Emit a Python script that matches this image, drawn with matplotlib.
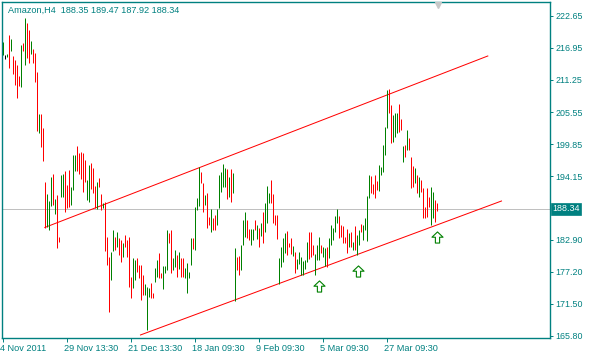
import matplotlib
matplotlib.use("Agg")
import matplotlib.pyplot as plt
import matplotlib.transforms as mtransforms
from matplotlib.path import Path

plt.rcParams['font.family'] = ['Liberation Sans', 'DejaVu Sans']

TEAL = "#008080"
UP_COL = "#008000"
DN_COL = "#FF0000"

TITLE = "Amazon,H4  188.35 189.47 187.92 188.34"
LAST_PRICE = 188.34

# H4 bars: high / low per bar, direction u=up, d=down, n=doji
HIGH = [
    218.04, 215.67, 215.79, 219.22, 218.51, 215.55, 214.78, 213.90, 212.00, 217.45,
    217.74, 222.18, 221.29, 220.11, 218.16, 216.74, 216.09, 212.71, 205.20, 205.20,
    202.65, 193.19, 191.00, 189.81, 193.96, 194.55, 190.05, 190.82, 183.42, 194.37,
    194.55, 195.14, 192.65, 195.26, 192.30, 197.92, 197.92, 199.58, 198.22, 198.51,
    198.22, 197.03, 193.48, 196.15, 196.56, 195.55, 192.42, 193.19, 193.90, 191.00,
    189.46, 189.64, 183.42, 179.87, 180.76, 184.61, 183.42, 184.31, 183.13, 182.83,
    182.24, 183.72, 182.83, 183.42, 176.32, 179.58, 179.28, 179.58, 178.39, 178.39,
    176.62, 175.02, 174.43, 174.25, 175.14, 173.48, 177.80, 179.28, 180.47, 176.92,
    178.22, 178.22, 184.61, 184.02, 184.61, 179.58, 181.06, 180.17, 180.76, 179.58,
    179.58, 177.80, 178.69, 177.21, 183.13, 183.13, 188.75, 190.23, 195.85, 194.96,
    192.89, 190.82, 191.24, 186.97, 188.34, 186.68, 187.27, 188.28, 194.37, 194.96,
    196.32, 195.55, 195.38, 194.07, 195.38, 194.79, 181.35, 179.87, 179.99, 181.95,
    186.38, 187.86, 186.38, 184.73, 184.73, 184.84, 186.38, 185.49, 184.90, 185.79,
    187.86, 189.34, 192.42, 191.24, 193.48, 191.00, 187.27, 187.27, 179.58, 181.53,
    183.13, 184.02, 184.43, 182.36, 183.25, 181.77, 180.76, 179.40, 180.76, 179.87,
    179.16, 179.28, 182.54, 184.31, 184.31, 181.95, 180.29, 181.95, 183.42, 181.95,
    181.53, 181.35, 181.53, 183.25, 185.49, 184.90, 187.09, 188.28, 187.09, 185.49,
    185.32, 183.42, 184.73, 184.13, 184.31, 182.54, 185.32, 183.72, 184.61, 185.67,
    185.49, 186.68, 190.64, 194.37, 194.19, 192.77, 194.37, 193.37, 196.15, 195.73,
    199.70, 202.95, 209.46, 209.58, 206.80, 205.02, 205.32, 205.32, 206.91, 204.25,
    199.52, 199.70, 202.36, 201.00, 197.63, 195.97, 195.55, 194.37, 194.07, 193.48,
    192.00, 188.75, 192.00, 190.52, 192.30, 191.41, 189.93, 189.47,
]
LOW = [
    215.67, 214.90, 215.26, 213.31, 216.44, 212.24, 210.35, 207.98, 210.17, 210.05,
    216.44, 213.90, 215.08, 214.19, 215.85, 214.19, 210.94, 202.24, 201.89, 199.40,
    196.91, 184.90, 185.20, 184.61, 188.87, 189.05, 187.45, 181.35, 182.54, 190.52,
    190.52, 187.86, 188.45, 188.63, 189.05, 191.71, 195.14, 195.14, 194.55, 193.60,
    191.41, 193.19, 189.93, 189.64, 191.83, 191.12, 188.45, 188.28, 192.18, 188.16,
    188.45, 180.94, 178.39, 170.11, 175.73, 180.94, 181.06, 181.65, 180.17, 178.99,
    179.87, 181.65, 179.87, 174.55, 172.48, 174.25, 175.73, 177.21, 176.03, 172.18,
    173.07, 173.07, 166.86, 172.66, 172.48, 172.48, 175.44, 176.32, 176.03, 176.03,
    174.08, 176.92, 177.51, 182.24, 176.92, 177.51, 178.10, 176.32, 177.63, 176.32,
    176.32, 176.03, 173.48, 176.03, 178.39, 181.18, 181.06, 188.16, 188.87, 192.89,
    187.86, 189.05, 184.90, 185.49, 184.31, 184.61, 184.61, 185.49, 188.45, 191.41,
    192.30, 192.30, 190.05, 190.52, 189.64, 191.24, 172.06, 177.51, 176.62, 177.51,
    181.95, 183.42, 183.13, 182.83, 181.95, 182.83, 184.61, 182.95, 181.65, 183.54,
    182.24, 184.31, 185.79, 189.34, 189.46, 185.79, 185.49, 182.95, 175.02, 178.10,
    178.99, 180.58, 180.17, 181.65, 180.29, 179.99, 176.92, 177.63, 178.57, 176.62,
    176.62, 177.63, 178.99, 179.40, 179.87, 180.17, 176.62, 179.28, 179.28, 180.47,
    179.76, 178.22, 178.10, 179.58, 181.95, 182.83, 184.31, 185.79, 183.13, 183.42,
    182.24, 182.36, 180.58, 181.53, 181.65, 181.06, 181.06, 180.17, 181.95, 184.31,
    182.83, 184.61, 182.71, 190.23, 191.12, 191.00, 190.23, 191.71, 191.59, 194.37,
    194.96, 197.92, 202.65, 205.32, 200.11, 200.29, 201.18, 201.89, 202.06, 202.36,
    196.74, 197.63, 198.81, 198.81, 192.00, 192.30, 192.89, 191.12, 190.52, 191.41,
    186.68, 186.68, 186.97, 188.75, 185.49, 186.68, 186.09, 187.92,
]
DIR = ("unududdddu" "duddudddud" "dduuududdu" "uddduuuddd" "dduudddudd"
       "uddduududd" "udddduuddd" "duuudduudd" "uuudduudud" "duuuuduuud"
       "duddudduuu" "uududuuddu" "uudduududu" "duuudddduu" "uuddduduuu"
       "uuuddduuud" "uuduuuuudd" "dddududuud" "uuuudddduu" "uuudduuudd"
       "ududddudud" "dddduudd")

# x axis: one label every 32 bars
XTICK_POS = [0, 32, 64, 96, 128, 160, 192]
XTICK_LAB = ["4 Nov 2011", "29 Nov 13:30", "21 Dec 13:30", "18 Jan 09:30",
             "9 Feb 09:30", "5 Mar 09:30", "27 Mar 09:30"]
YTICKS = [222.65, 216.95, 211.25, 205.55, 199.85, 194.15,
          182.90, 177.20, 171.50, 165.80]

# channel lines (bar index, price)
UPPER_X = [21.15, 242.65]
UPPER_Y = [185.06, 215.50]
LOWER_X = [69.0, 249.5]
LOWER_Y = [165.98, 189.76]

# buy arrows
ARROW_X = [158.3, 177.5, 217.3]
ARROW_Y = [174.76, 177.37, 183.33]

W, H = 589, 354
fig = plt.figure(figsize=(W / 100, H / 100), dpi=100)
fig.patch.set_facecolor("white")
ax = fig.add_axes([1.5 / W, 16.5 / H, 548.5 / W, 336 / H])
ax.set_facecolor("white")

ax.set_xlim(-0.5, 273.75)
ax.set_ylim(165.53, 225.17)

# current price line
ax.axhline(LAST_PRICE, color="#C0C0C0", lw=0.72, zorder=1)

col = {"u": UP_COL, "d": DN_COL, "n": "black"}
xs = list(range(len(HIGH)))
ax.vlines(xs, LOW, HIGH, colors=[col[c] for c in DIR], lw=0.72, zorder=3)

ax.plot(UPPER_X, UPPER_Y, color=DN_COL, lw=0.72, zorder=2)
ax.plot(LOWER_X, LOWER_Y, color=DN_COL, lw=0.72, zorder=2)

arrow = Path([(0, 1), (1, 0.05), (0.38, 0.05), (0.38, -1), (-0.38, -1),
              (-0.38, 0.05), (-1, 0.05), (0, 1)],
             [Path.MOVETO] + [Path.LINETO] * 6 + [Path.CLOSEPOLY])
ax.plot(ARROW_X, ARROW_Y, ls="none", marker=arrow, markersize=8,
        markerfacecolor="white", markeredgecolor=UP_COL, markeredgewidth=0.8,
        zorder=5)

# shift marker at top
ax.plot([217.5], [224.6], ls="none", marker="v", markersize=5,
        color="#C8C8C8", clip_on=False, zorder=6)

for s in ax.spines.values():
    s.set_color(TEAL)
    s.set_linewidth(1.0)

ax.yaxis.tick_right()
ax.set_yticks(YTICKS)
ax.set_yticklabels(["%.2f" % v for v in YTICKS])
ax.tick_params(axis="y", direction="out", length=2.5, width=0.7, colors=TEAL,
               labelsize=6.4, pad=1.5)

ax.set_xticks(XTICK_POS)
ax.set_xticklabels(XTICK_LAB, ha="left")
ax.tick_params(axis="x", direction="out", length=3, width=0.7, colors=TEAL,
               labelsize=6.6, pad=2)
for lbl in ax.get_xticklabels():
    lbl.set_transform(lbl.get_transform() +
                      mtransforms.ScaledTranslation(-2 / 100, 0, fig.dpi_scale_trans))

# highlighted last price label
trans = mtransforms.blended_transform_factory(ax.transAxes, ax.transData)
ax.text(1.004, LAST_PRICE, "188.34", transform=trans, ha="left", va="center",
        fontsize=6.4, color="white", clip_on=False,
        bbox=dict(boxstyle="square,pad=0.18", fc=TEAL, ec=TEAL, lw=0.5))

ax.text(6 / 548.5, 1 - 4 / 336, TITLE, transform=ax.transAxes, ha="left",
        va="top", fontsize=6.6, color=TEAL)

fig.savefig("out.png", dpi=100, facecolor="white")
